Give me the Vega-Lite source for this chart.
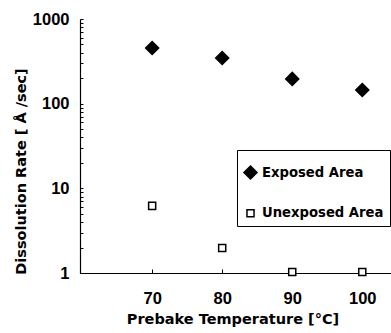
{
  "$schema": "https://vega.github.io/schema/vega-lite/v6.json",
  "autosize": "none",
  "width": 311,
  "height": 254,
  "padding": {"left": 80, "top": 19, "right": 0, "bottom": 60},
  "background": "white",
  "config": {
    "view": {"stroke": null},
    "font": "DejaVu Sans",
    "axis": {"grid": false, "domainColor": "black", "tickColor": "black", "labelColor": "black", "titleColor": "black", "labelFont": "Liberation Sans", "labelFontWeight": "bold", "titleFont": "DejaVu Sans", "titleFontWeight": "bold"},
    "legend": {"orient": "none", "legendX": 157, "legendY": 131, "titleFontSize": 5, "titlePadding": 4, "strokeColor": "black", "fillColor": "white", "padding": 6, "rowPadding": 22.6, "labelOffset": 4, "labelFontSize": 13.2, "labelFontWeight": "bold", "labelFont": "DejaVu Sans", "labelColor": "black", "symbolStrokeWidth": 1.5}
  },
  "data": {
    "values": [
      {"temp": 70, "rate": 454, "series": "Exposed Area"},
      {"temp": 80, "rate": 346, "series": "Exposed Area"},
      {"temp": 90, "rate": 196, "series": "Exposed Area"},
      {"temp": 100, "rate": 145, "series": "Exposed Area"},
      {"temp": 70, "rate": 6.2, "series": "Unexposed Area"},
      {"temp": 80, "rate": 1.97, "series": "Unexposed Area"},
      {"temp": 90, "rate": 1.03, "series": "Unexposed Area"},
      {"temp": 100, "rate": 1.03, "series": "Unexposed Area"}
    ]
  },
  "mark": {"type": "point", "clip": false, "filled": true, "strokeWidth": 1.5, "opacity": 1},
  "encoding": {
    "x": {
      "field": "temp", "type": "quantitative",
      "scale": {"domain": [59.7, 104.1], "nice": false, "zero": false},
      "axis": {"values": [70, 80, 90, 100], "tickSize": -4, "labelFontSize": 16.5, "labelPadding": 21, "title": "Prebake Temperature [°C]", "titleFontSize": 14.5, "titlePadding": 6, "domainWidth": 1.2, "titleX": 152.5}
    },
    "y": {
      "field": "rate", "type": "quantitative",
      "scale": {"type": "log", "domain": [1, 1000], "nice": false},
      "axis": {
        "values": [1,2,3,4,5,6,7,8,9,10,20,30,40,50,60,70,80,90,100,200,300,400,500,600,700,800,900,1000],
        "labelExpr": "indexof([1,10,100,1000], datum.value) >= 0 ? datum.label : ''",
        "format": "d",
        "tickSize": -3, "labelFontSize": 16.5, "labelPadding": 14,
        "title": "Dissolution Rate [ Å /sec]", "titleFontSize": 14.5, "titlePadding": 4, "titleY": 152, "domainWidth": 1.2
      }
    },
    "shape": {
      "field": "series", "type": "nominal",
      "scale": {"domain": ["Exposed Area", "Unexposed Area"], "range": ["diamond", "square"]},
      "legend": {"title": " "}
    },
    "fill": {
      "field": "series", "type": "nominal",
      "scale": {"domain": ["Exposed Area", "Unexposed Area"], "range": ["black", "white"]},
      "legend": {"title": " "}
    },
    "stroke": {
      "field": "series", "type": "nominal",
      "scale": {"domain": ["Exposed Area", "Unexposed Area"], "range": ["black", "black"]},
      "legend": {"title": " "}
    },
    "size": {
      "field": "series", "type": "nominal",
      "scale": {"domain": ["Exposed Area", "Unexposed Area"], "range": [170, 50]},
      "legend": {"title": " "}
    }
  }
}
